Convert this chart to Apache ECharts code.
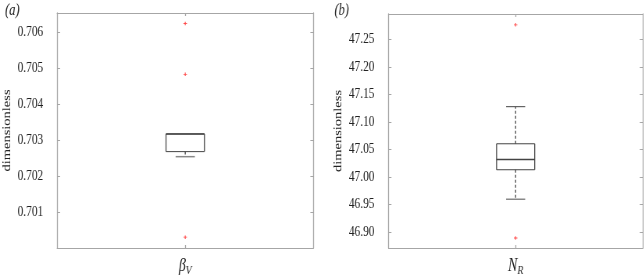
<!DOCTYPE html>
<html>
<head>
<meta charset="utf-8">
<script src="https://cdn.jsdelivr.net/npm/echarts@6/dist/echarts.min.js"></script>
<style>
html,body{margin:0;padding:0;background:#fff;overflow:hidden;width:644px;height:277px;}
#c{height:277px;transform-origin:0 0;}
</style>
</head>
<body>
<div id="c"></div>
<script>
// ---- data ----
const panelLabels = ['(a)', '(b)'];
const categoriesA = ['βV'];
const categoriesB = ['NR'];
const yNames = ['dimensionless', 'dimensionless'];
// [lower whisker, Q1, median, Q3, upper whisker]
const boxA = [0.70254, 0.70268, 0.70317, 0.70317, 0.70317];
const boxB = [46.9594, 47.0130, 47.0316, 47.0602, 47.1276];
const outliersA = [0.70623, 0.70482, 0.70031];
const outliersB = [47.2763, 46.8890];
const ticksA = [0.701, 0.702, 0.703, 0.704, 0.705, 0.706];
const ticksB = [46.90, 46.95, 47.00, 47.05, 47.10, 47.15, 47.20, 47.25];
const rangeA = [0.70001, 0.70652];
const rangeB = [46.8708, 47.2960];

// horizontal condensing of the whole figure (the reference text is narrow)
const S = 0.78;
const W = 644 / S;
const el = document.getElementById('c');
el.style.width = W + 'px';
el.style.transform = 'scaleX(' + S + ')';

const SERIF = 'Liberation Serif';
const BORDER = '#a6a6a6';
const INK = '#222';

function renderBox(dashed) {
  return function (params, api) {
    const x = api.value(0);
    const lo = api.coord([x, api.value(1)]);
    const q1 = api.coord([x, api.value(2)]);
    const md = api.coord([x, api.value(3)]);
    const q3 = api.coord([x, api.value(4)]);
    const hi = api.coord([x, api.value(5)]);
    const band = api.size([1, 0])[0];
    const bw = band * 0.15;
    const cw = bw * 0.5;
    const cx = q1[0];
    const hStyle = {stroke: '#444', lineWidth: 1};
    const vStyle = {stroke: '#444', lineWidth: 1 / S};
    const dash = {stroke: '#444', lineWidth: 1 / S, lineDash: dashed ? [3, 2] : null};
    const children = [];
    if (hi[1] < q3[1] - 0.5) {
      children.push({type: 'line', shape: {x1: cx, y1: q3[1], x2: cx, y2: hi[1]}, style: dash});
      children.push({type: 'line', shape: {x1: cx - cw / 2, y1: hi[1], x2: cx + cw / 2, y2: hi[1]}, style: hStyle});
    }
    if (lo[1] > q1[1] + 0.5) {
      children.push({type: 'line', shape: {x1: cx, y1: q1[1], x2: cx, y2: lo[1]}, style: dash});
      children.push({type: 'line', shape: {x1: cx - cw / 2, y1: lo[1], x2: cx + cw / 2, y2: lo[1]}, style: {stroke: '#888', lineWidth: 1.5}});
    }
    const l = cx - bw / 2, r = cx + bw / 2;
    children.push({type: 'line', shape: {x1: l, y1: q3[1], x2: r, y2: q3[1]}, style: hStyle});
    children.push({type: 'line', shape: {x1: l, y1: q1[1], x2: r, y2: q1[1]}, style: hStyle});
    children.push({type: 'line', shape: {x1: l, y1: q3[1], x2: l, y2: q1[1]}, style: vStyle});
    children.push({type: 'line', shape: {x1: r, y1: q3[1], x2: r, y2: q1[1]}, style: vStyle});
    children.push({type: 'line', shape: {x1: l, y1: md[1], x2: r, y2: md[1]}, style: {stroke: '#444', lineWidth: 1.5}});
    return {type: 'group', children: children};
  };
}

const plusPath = 'path://M0,4L8,4M4,0L4,8';

function catLabel(name) {
  return '{b|' + name.charAt(0) + '}{s|' + name.slice(1) + '}';
}

function makeAxes(gi, cats, ticks, range, dec, nameGap) {
  const xa = [
    {type: 'category', gridIndex: gi, data: cats, position: 'bottom',
     axisLine: {show: true, lineStyle: {color: BORDER, width: 1}},
     axisTick: {show: true, inside: true, length: 3, alignWithLabel: true, lineStyle: {color: BORDER, width: 1 / S}},
     axisLabel: {margin: 7, formatter: catLabel,
       rich: {
         b: {fontFamily: SERIF, fontStyle: 'italic', fontSize: 18, color: INK},
         s: {fontFamily: SERIF, fontStyle: 'italic', fontSize: 12.5, color: INK, padding: [9, 0, 0, 0]}
       }}},
    {type: 'category', gridIndex: gi, data: cats, position: 'top',
     axisLine: {show: true, lineStyle: {color: BORDER, width: 1}},
     axisTick: {show: true, inside: true, length: 3, alignWithLabel: true, lineStyle: {color: BORDER, width: 1 / S}},
     axisLabel: {show: false}}
  ];
  const ya = [
    {type: 'value', gridIndex: gi, min: range[0], max: range[1], position: 'left',
     name: yNames[gi], nameLocation: 'middle', nameGap: nameGap / S, nameRotate: 90, nameMoveOverlap: false,
     nameTextStyle: {fontFamily: SERIF, fontSize: 14.5, color: INK},
     splitLine: {show: false},
     axisLine: {show: true, lineStyle: {color: BORDER, width: 1 / S}},
     axisTick: {show: true, inside: true, length: 3 / S, lineStyle: {color: BORDER}, customValues: ticks},
     axisLabel: {margin: 14 / S, fontFamily: SERIF, fontSize: 14.5, color: INK, customValues: ticks,
       formatter: v => Number(v).toFixed(dec)}},
    {type: 'value', gridIndex: gi, min: range[0], max: range[1], position: 'right',
     splitLine: {show: false},
     axisLine: {show: true, lineStyle: {color: BORDER, width: 1 / S}},
     axisTick: {show: true, inside: true, length: 3 / S, lineStyle: {color: BORDER}, customValues: ticks},
     axisLabel: {show: false, customValues: ticks}}
  ];
  return {xa, ya};
}

const A = makeAxes(0, categoriesA, ticksA, rangeA, 3, 44);
const B = makeAxes(1, categoriesB, ticksB, rangeB, 2, 44);

const chart = echarts.init(el, null, {renderer: 'canvas', width: W, height: 277});
chart.setOption({
  animation: false,
  backgroundColor: '#fff',
  grid: [
    {left: 57 / S, right: 331 / S, top: 13, bottom: 26},
    {left: 388 / S, right: 2 / S, top: 14, bottom: 25}
  ],
  xAxis: A.xa.concat(B.xa),
  yAxis: A.ya.concat(B.ya),
  graphic: [
    {type: 'text', left: 5 / S, top: 3, style: {text: panelLabels[0], font: 'italic 16px ' + SERIF, fill: INK}},
    {type: 'text', left: 334 / S, top: 3, style: {text: panelLabels[1], font: 'italic 16px ' + SERIF, fill: INK}}
  ],
  series: [
    {type: 'custom', xAxisIndex: 0, yAxisIndex: 0, renderItem: renderBox(true),
     data: [[0].concat(boxA)], encode: {x: 0, y: [1, 2, 3, 4, 5]}},
    {type: 'scatter', xAxisIndex: 0, yAxisIndex: 0, symbol: plusPath, symbolSize: [3.5 / S, 3.5],
     itemStyle: {color: 'none', borderColor: '#ff2020', borderWidth: 1},
     data: outliersA.map(v => [0, v])},
    {type: 'custom', xAxisIndex: 2, yAxisIndex: 2, renderItem: renderBox(true),
     data: [[0].concat(boxB)], encode: {x: 0, y: [1, 2, 3, 4, 5]}},
    {type: 'scatter', xAxisIndex: 2, yAxisIndex: 2, symbol: plusPath, symbolSize: [3.5 / S, 3.5],
     itemStyle: {color: 'none', borderColor: '#ff2020', borderWidth: 1},
     data: outliersB.map(v => [0, v])}
  ]
});
</script>
</body>
</html>
